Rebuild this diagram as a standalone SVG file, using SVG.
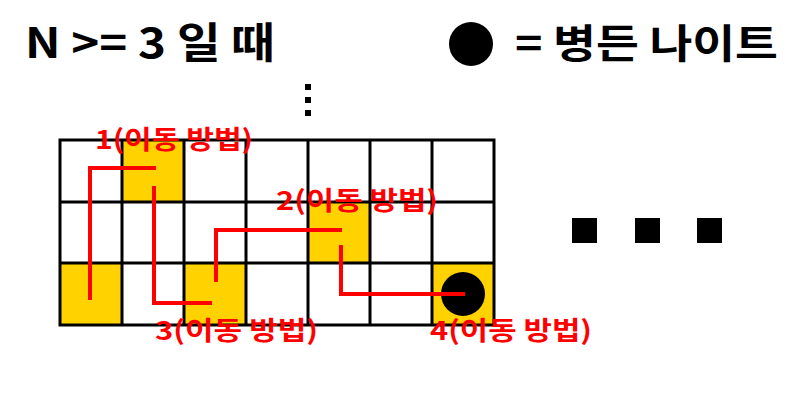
<svg xmlns="http://www.w3.org/2000/svg" width="800" height="420" viewBox="0 0 800 420">
<style>
.y{fill:#FFD200}
.t{font-family:"Noto Sans CJK KR","Liberation Sans",sans-serif;font-weight:bold;fill:#000}
.lbl{font-family:"Noto Sans CJK KR","Liberation Sans",sans-serif;font-weight:bold;fill:#F00;font-size:26px}
.path{fill:none;stroke:#F00;stroke-width:4;stroke-linejoin:miter}
</style>
<rect width="800" height="420" fill="#fff"/>
<g id="title"><text class="t" x="25" y="58" font-size="42" textLength="250" lengthAdjust="spacingAndGlyphs">N &gt;= 3 일 때</text></g>
<g id="legend">
<circle cx="471" cy="44" r="22" fill="#000"/>
<text class="t" x="515" y="58" font-size="40" textLength="263" lengthAdjust="spacingAndGlyphs">= 병든 나이트</text>
</g>
<g id="vdots" fill="#000">
<rect x="305" y="84" width="6" height="6"/>
<rect x="305" y="97" width="6" height="6"/>
<rect x="305" y="110" width="6" height="6"/>
</g>
<g id="grid">
<rect class="y" x="122" y="140" width="62" height="62"/>
<rect class="y" x="308" y="202" width="62" height="62"/>
<rect class="y" x="60" y="263" width="62" height="62"/>
<rect class="y" x="184" y="263" width="62" height="62"/>
<rect class="y" x="432" y="263" width="62" height="62"/>
<g fill="none" stroke="#000" stroke-width="3">
<rect x="60" y="140" width="434" height="185"/>
<path d="M60 202H494M60 263H494M122 140V325M184 140V325M246 140V325M308 140V325M370 140V325M432 140V325"/>
</g>
</g>
<g id="knight"><circle cx="463" cy="294" r="22" fill="#000"/></g>
<g id="connectors">
<path class="path" d="M90 300V168H156"/>
<path class="path" d="M154 186V303H212"/>
<path class="path" d="M216 282V230H342"/>
<path class="path" d="M341 245V294H465"/>
</g>
<g id="labels">
<text class="lbl" x="95" y="149" textLength="158" lengthAdjust="spacingAndGlyphs">1(이동 방법)</text>
<text class="lbl" x="276" y="210" textLength="162" lengthAdjust="spacingAndGlyphs">2(이동 방법)</text>
<text class="lbl" x="155" y="340" textLength="163" lengthAdjust="spacingAndGlyphs">3(이동 방법)</text>
<text class="lbl" x="430" y="340" textLength="162" lengthAdjust="spacingAndGlyphs">4(이동 방법)</text>
</g>
<g id="hdots" fill="#000">
<rect x="572" y="218" width="25" height="25"/>
<rect x="635" y="218" width="25" height="25"/>
<rect x="697" y="218" width="25" height="25"/>
</g>
</svg>
